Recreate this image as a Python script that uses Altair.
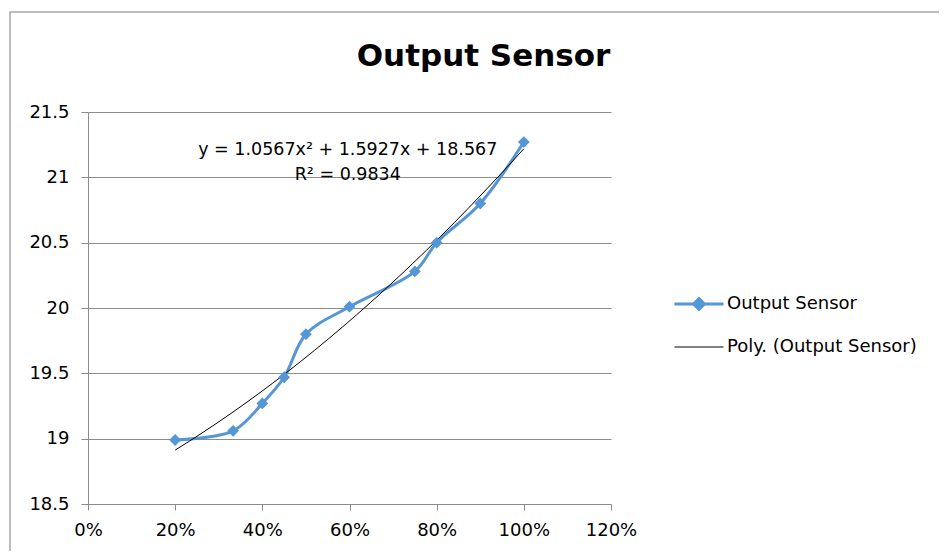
import altair as alt
import pandas as pd

# ---- data ----
x_share = [0.20, 0.333, 0.40, 0.45, 0.50, 0.60, 0.75, 0.80, 0.90, 1.00]
y_output = [18.99, 19.06, 19.27, 19.47, 19.80, 20.01, 20.28, 20.50, 20.80, 21.27]

series_names = ["Output Sensor", "Poly. (Output Sensor)"]
eq_lines = ["y = 1.0567x\u00b2 + 1.5927x  + 18.567", "R\u00b2 = 0.9834"]
eq_x = [0.596, 0.596]
eq_y = [21.17, 20.98]

x_ticks = [0, 0.2, 0.4, 0.6, 0.8, 1.0, 1.2]
y_ticks = [18.5, 19, 19.5, 20, 20.5, 21, 21.5]

BLUE = "#5596D6"
GRID = "#8C8C8C"
FONT = "DejaVu Sans"

df = pd.DataFrame({"x": x_share, "y": y_output})
eq_df = pd.DataFrame({"x": eq_x, "y": eq_y, "t": eq_lines})
legend_df = pd.DataFrame({"series": series_names, "x": [None, None], "y": [None, None]})

xs = alt.Scale(domain=[0, 1.2], nice=False)
ys = alt.Scale(domain=[18.5, 21.5], nice=False, zero=False)

x_enc = alt.X("x:Q", scale=xs, axis=alt.Axis(values=x_ticks, format=".0%", title=None, grid=False,
                                             tickSize=6, labelPadding=11, labelFlush=False,
                                             labelOverlap=False))
y_enc = alt.Y("y:Q", scale=ys, axis=alt.Axis(values=y_ticks, format="~f", title=None, grid=True,
                                             tickSize=7, labelPadding=12, labelFlush=False,
                                             labelOverlap=False))

base = alt.Chart(df)

line = base.mark_line(interpolate="catmull-rom", color=BLUE, strokeWidth=3).encode(x=x_enc, y=y_enc)
points = base.mark_point(shape="diamond", filled=True, size=140, color=BLUE, opacity=1).encode(x="x:Q", y="y:Q")
trend = base.transform_regression("x", "y", method="poly", order=2).mark_line(
    color="black", strokeWidth=1).encode(x="x:Q", y="y:Q")

path_main = "M-1,0L1,0M0,-0.22L0.22,0L0,0.22L-0.22,0Z"
path_poly = "M-1,0L1,0"

leg = alt.Legend(title=None, orient="none", legendX=585, legendY=166, labelFontSize=18, labelFont=FONT,
                 labelColor="black", symbolSize=2401, labelOffset=2, rowPadding=6, labelLimit=400,
                 symbolOpacity=1)
legend_layer = alt.Chart(legend_df).mark_point(filled=True, opacity=1).encode(
    x="x:Q", y="y:Q",
    fill=alt.Fill("series:N", scale=alt.Scale(domain=series_names, range=[BLUE, "black"]), legend=leg),
    stroke=alt.Stroke("series:N", scale=alt.Scale(domain=series_names, range=[BLUE, "black"]), legend=leg),
    shape=alt.Shape("series:N", scale=alt.Scale(domain=series_names, range=[path_main, path_poly]), legend=leg),
    strokeWidth=alt.StrokeWidth("series:N", scale=alt.Scale(domain=series_names, range=[3, 1]), legend=leg),
)

eq = alt.Chart(eq_df).mark_text(font=FONT, fontSize=17.5, align="center", baseline="alphabetic",
                                color="black").encode(x="x:Q", y="y:Q", text="t:N")

frame = alt.Chart(alt.Data(values=[{"a": 1}])).mark_rect(
    fillOpacity=0, stroke="#A6A6A6", strokeWidth=1.5).encode(
    x=alt.value(-78), x2=alt.value(950), y=alt.value(-100), y2=alt.value(600))

chart = alt.layer(frame, line, trend, points, legend_layer, eq).properties(
    width=523, height=392,
    title=alt.TitleParams("Output Sensor", fontSize=31, fontWeight="bold", font=FONT, color="black",
                          anchor="middle", frame="group", dx=134, offset=0, dy=62),
    autosize=alt.AutoSizeParams(type="none"),
    padding={"left": 80, "top": 104, "right": 328, "bottom": 47},
).configure_view(strokeWidth=0).configure_axis(
    labelFont=FONT, labelFontSize=18, labelColor="black", domainColor=GRID, tickColor=GRID,
    gridColor=GRID, gridWidth=1, domainWidth=1, tickWidth=1,
)

chart.save("out.html", embed_options={"renderer": "svg", "actions": False})
